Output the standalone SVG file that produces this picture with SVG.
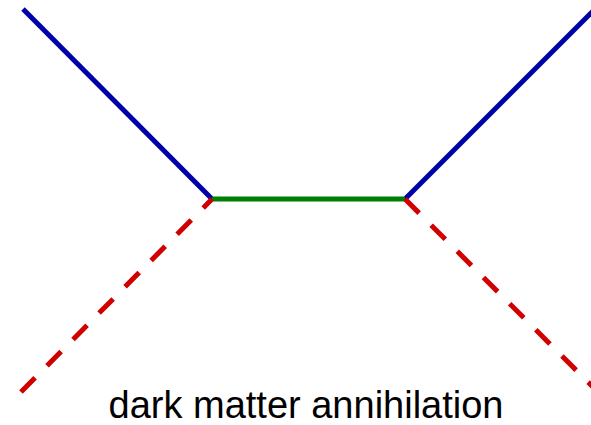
<svg xmlns="http://www.w3.org/2000/svg" width="591" height="425" viewBox="0 0 591 425">
<style>
.l{fill:none;stroke-width:5}
.f{stroke:#0000a8}
.b{stroke:#008000}
.s{stroke:#d00000;stroke-dasharray:20 17}
.t{font-family:"Liberation Sans",Arial,sans-serif;font-size:38px;fill:#000}
</style>
<rect width="591" height="425" fill="#fff"/>
<g id="connectors">
<line class="l f" x1="23" y1="9" x2="212" y2="199"/>
<line class="l f" x1="405" y1="199" x2="595" y2="9"/>
<line class="l b" x1="212" y1="199" x2="405" y2="199"/>
<line class="l s" x1="21" y1="392" x2="212" y2="199"/>
<line class="l s" x1="405" y1="199" x2="600" y2="394"/>
</g>
<g id="label">
<text class="t" x="306" y="418" text-anchor="middle">dark matter annihilation</text>
</g>
</svg>
